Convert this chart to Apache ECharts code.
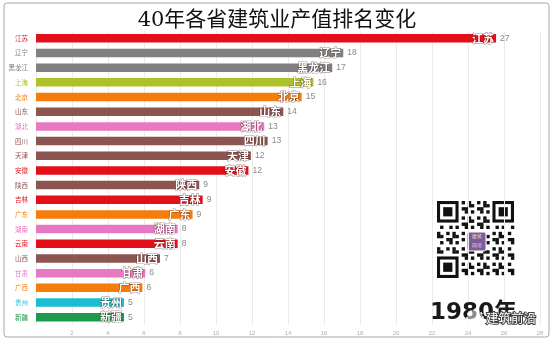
<!DOCTYPE html>
<html><head><meta charset="utf-8">
<script src="https://cdn.jsdelivr.net/npm/echarts@6/dist/echarts.min.js"></script>
<style>html,body{margin:0;padding:0;background:#fff}#c{width:554px;height:344px}</style>
</head><body><div id="c"></div>
<script>
// Categories (top to bottom)
const provinces = ['江苏','辽宁','黑龙江','上海','北京','山东','湖北','四川','天津','安徽','陕西','吉林','广东','湖南','云南','山西','甘肃','广西','贵州','新疆'];
// Numbers printed next to each bar
const rankValues = [27,18,17,16,15,14,13,13,12,12,9,9,9,8,8,7,6,6,5,5];
// Current (animated) bar lengths
const barLengths = [25.56,17.07,16.46,15.41,14.76,13.74,12.68,12.87,11.94,11.8,9.07,9.26,8.7,7.87,7.87,6.89,6.07,5.91,4.89,4.89];
// Bar colours
const RED='#e3101a', GRAY='#808080', OLIVE='#adc12b', ORANGE='#f47d0c', BROWN='#8c5550', PINK='#e778c2', CYAN='#1bbdd0', GREEN='#1e9a4c';
const barColors = [RED,GRAY,GRAY,OLIVE,ORANGE,BROWN,PINK,BROWN,BROWN,RED,BROWN,RED,ORANGE,PINK,RED,BROWN,PINK,ORANGE,CYAN,GREEN];
const titleText = '40年各省建筑业产值排名变化';
const yearText = '1980年';
const xMin = 0, xMax = 28, xStep = 2;

// QR-like decoration
function qrGraphic(){
  const n = 25, x0 = 437, y0 = 201, s = 77/25;
  const els = [];
  const inFinder = (r,c)=> (r<8&&c<8)||(r<8&&c>=n-8)||(r>=n-8&&c<8);
  for(let r=0;r<n;r++){
    for(let c=0;c<n;c++){
      if(inFinder(r,c)) continue;
      if(r>=9&&r<=15&&c>=9&&c<=15) continue;
      if(((r*31 + c*17 + r*c*7) % 5) < 2){
        els.push({type:'rect',shape:{x:x0+c*s,y:y0+r*s,width:s+0.3,height:s+0.3},style:{fill:'#111'}});
      }
    }
  }
  [[0,0],[0,n-7],[n-7,0]].forEach(([r,c])=>{
    els.push({type:'rect',shape:{x:x0+c*s,y:y0+r*s,width:7*s,height:7*s},style:{fill:'#111'}});
    els.push({type:'rect',shape:{x:x0+(c+1)*s,y:y0+(r+1)*s,width:5*s,height:5*s},style:{fill:'#fff'}});
    els.push({type:'rect',shape:{x:x0+(c+2)*s,y:y0+(r+2)*s,width:3*s,height:3*s},style:{fill:'#111'}});
  });
  els.push({type:'rect',shape:{x:467,y:232,width:19,height:19,r:2},style:{fill:'#7b5c9c',stroke:'#fff',lineWidth:1}});
  els.push({type:'text',x:476.5,y:237,style:{text:'建筑',fill:'#f4e6a8',fontSize:5,align:'center',verticalAlign:'middle'}});
  els.push({type:'text',x:476.5,y:246,style:{text:'前沿',fill:'#f4e6a8',fontSize:5,align:'center',verticalAlign:'middle'}});
  return {type:'group',children:els,z:10};
}

const chart = echarts.init(document.getElementById('c'));
chart.setOption({
  animation:false,
  backgroundColor:'#fff',
  title:{text:titleText,left:'center',top:5,textStyle:{fontSize:21,fontWeight:'normal',color:'#111',fontFamily:"'DejaVu Serif','Noto Sans CJK SC',serif"}},
  grid:{left:36,right:14,top:31,bottom:19.5,containLabel:false},
  xAxis:{type:'value',min:xMin,max:xMax,interval:xStep,
    axisLine:{show:false},axisTick:{show:false},
    splitLine:{lineStyle:{color:'#ebebeb',width:1}},
    axisLabel:{showMinLabel:false,fontSize:6,color:'#b0b0b0',margin:6}},
  yAxis:{type:'category',data:provinces,inverse:true,
    axisLine:{show:false},axisTick:{show:false},
    axisLabel:{fontSize:6.5,margin:8,color:(v,i)=>barColors[i],fontFamily:"'Noto Sans CJK SC'"}},
  series:[
    {type:'bar',barWidth:8.5,data:barLengths.map((v,i)=>({value:v,itemStyle:{color:barColors[i]}})),
     label:{show:true,position:'right',distance:4,fontSize:8.5,
       formatter:p=>String(rankValues[p.dataIndex]),
       color:'#888'},
     z:2},
    {type:'bar',barWidth:8.5,barGap:'-100%',silent:true,
     data:barLengths.map((v,i)=>({value:v,itemStyle:{color:'rgba(0,0,0,0)'}})),
     label:{show:true,position:'insideRight',distance:2,fontSize:11,fontWeight:'bold',
       fontFamily:"'Noto Sans CJK SC'",color:'#fff',
       textBorderColor:'rgba(60,20,20,0.45)',textBorderWidth:1.2,
       formatter:p=>provinces[p.dataIndex]},
     z:3}
  ],
  graphic:[
    {type:'rect',shape:{x:4,y:3,width:545,height:334,r:3},style:{fill:'none',stroke:'#a8a8a8',lineWidth:1},z:0,silent:true},
    qrGraphic(),
    {type:'text',x:517,y:313,z:11,style:{text:yearText,fontSize:23,fontWeight:'bold',opacity:0.9,align:'right',verticalAlign:'middle',fontFamily:"'DejaVu Sans','Noto Sans CJK SC'",
      fill:new echarts.graphic.LinearGradient(0,0,1,0,[{offset:0,color:'rgba(60,60,60,0.15)'},{offset:0.25,color:'#3a3a3a'},{offset:1,color:'#3a3a3a'}])}},
    {type:'circle',shape:{cx:475,cy:318,r:8},style:{fill:'rgba(255,255,255,0.5)',stroke:'#fff',lineWidth:1.5,lineDash:[2,2]},z:12},
    {type:'text',x:511,y:318,z:12,style:{text:'建筑前沿',fontSize:12.5,fill:'#fff',stroke:'#444',lineWidth:2,align:'center',verticalAlign:'middle',fontFamily:"'Noto Sans CJK SC'"}}
  ]
});
</script></body></html>
